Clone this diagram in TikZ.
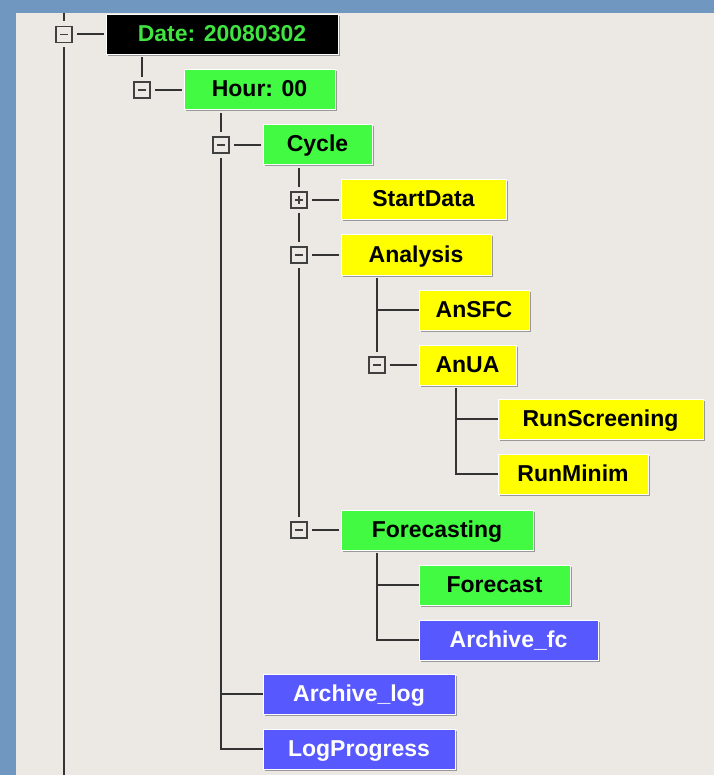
\documentclass[tikz,border=0pt]{standalone}
\usepackage{fontspec}
\setmainfont{Liberation Sans}
\usetikzlibrary{positioning, shadows}

\definecolor{frameBlue}{RGB}{112,151,192}
\definecolor{paneGrey}{RGB}{236,233,229}
\definecolor{activeGreen}{RGB}{66,250,66}
\definecolor{completeYellow}{RGB}{255,255,0}
\definecolor{queuedBlue}{RGB}{88,88,255}
\definecolor{suiteText}{RGB}{64,228,64}

\begin{document}
\begin{tikzpicture}[
    x=1pt, y=-1pt,            % one unit per screen pixel, y runs down
    node distance=15pt
  ]

  %--- styles for the task boxes and the tree lines ---
  \tikzset{
    taskBox/.style   ={rectangle, draw=white, line width=1pt, outer sep=0pt,
    minimum height=40pt, inner sep=0pt, text height=18pt, text depth=4pt,
    drop shadow={shadow xshift=1.5pt, shadow yshift=-1.5pt, opacity=1,
    fill=black!40}, font=\bfseries\fontsize{23}{27}\selectfont},
    suiteStyle/.style   ={taskBox, fill=black, text=suiteText},
    activeStyle/.style  ={taskBox, fill=activeGreen, text=black},
    completeStyle/.style={taskBox, fill=completeYellow, text=black},
    queuedStyle/.style  ={taskBox, fill=queuedBlue, text=white},
    % small expand / collapse boxes
    togBox/.style={rectangle, draw=black!75, line width=1.4pt, outer sep=0pt,
    minimum size=16pt, inner sep=0pt},
    togMinus/.style={togBox, path picture={
        \draw[black!75, line width=1.4pt]
        ([xshift=4pt]path picture bounding box.west) --
        ([xshift=-4pt]path picture bounding box.east);}},
    togPlus/.style={togBox, path picture={
        \draw[black!75, line width=1.4pt]
        ([xshift=4pt]path picture bounding box.west) --
        ([xshift=-4pt]path picture bounding box.east)
        ([yshift=-4pt]path picture bounding box.north) --
        ([yshift=4pt]path picture bounding box.south);}},
    treeLine/.style={draw=black!80, line width=2pt},
    stubLine/.style={treeLine, shorten <=5pt, shorten >=2pt},
    downLine/.style={treeLine, shorten <=3pt, shorten >=5pt},
  }

  %------------------------------------------------------------------------------
  % window frame
  %------------------------------------------------------------------------------
  \coordinate (paneTop) at (16,13);
  \coordinate (paneBottom) at (16,775);
  \useasboundingbox (0,0) rectangle (714,775);
  \fill[frameBlue] (0,0) rectangle (714,775);
  \fill[paneGrey] (paneTop) rectangle (714,775);

  %------------------------------------------------------------------------------
  % 1) Date, Hour, Cycle
  %------------------------------------------------------------------------------
  \node[suiteStyle, minimum width=232pt, anchor=west] (date) at (106,34.5)
  {Date: 20080302};
  \node[activeStyle, minimum width=151pt] (hour)
  [below right=15.5pt and 78pt of date.south west] {Hour: 00};
  \node[activeStyle, minimum width=109pt] (cycle)
  [below right=15pt and 79pt of hour.south west] {Cycle};

  %------------------------------------------------------------------------------
  % 2) children of Cycle
  %------------------------------------------------------------------------------
  \node[completeStyle, minimum width=165pt] (startData)
  [below right=15pt and 78pt of cycle.south west] {StartData};
  \node[completeStyle, minimum width=150pt] (analysis)
  [below=15pt of startData.south west, anchor=north west] {Analysis};

  \node[completeStyle, minimum width=110pt] (anSFC)
  [below right=15pt and 78pt of analysis.south west] {AnSFC};
  \node[completeStyle, minimum width=97pt] (anUA)
  [below=15pt of anSFC.south west, anchor=north west] {AnUA};

  \node[completeStyle, minimum width=205pt] (runScreening)
  [below right=14pt and 79pt of anUA.south west] {RunScreening};
  \node[completeStyle, minimum width=150pt] (runMinim)
  [below=15pt of runScreening.south west, anchor=north west] {RunMinim};

  \coordinate (fcRow) at (analysis.west |- runMinim.south);
  \node[activeStyle, minimum width=192pt] (forecasting)
  [below=16pt of fcRow, anchor=north west] {Forecasting};
  \node[activeStyle, minimum width=151pt] (forecast)
  [below right=15pt and 78pt of forecasting.south west] {Forecast};
  \node[queuedStyle, minimum width=179pt] (archiveFc)
  [below=15pt of forecast.south west, anchor=north west] {Archive\_fc};

  %------------------------------------------------------------------------------
  % 3) last tasks of Hour
  %------------------------------------------------------------------------------
  \coordinate (logRow) at (cycle.west |- archiveFc.south);
  \node[queuedStyle, minimum width=192pt] (archiveLog)
  [below=14pt of logRow, anchor=north west] {Archive\_log};
  \node[queuedStyle, minimum width=192pt] (logProgress)
  [below=15pt of archiveLog.south west, anchor=north west] {LogProgress};

  %------------------------------------------------------------------------------
  % expand / collapse boxes and joints
  %------------------------------------------------------------------------------
  \node[togMinus] (tgDate) [left=34pt of date] {};
  \node[togMinus] (tgHour) [left=34pt of hour] {};
  \node[togMinus] (tgCycle) [left=34pt of cycle] {};
  \node[togPlus]  (tgStartData) [left=34pt of startData] {};
  \node[togMinus] (tgAnalysis) [left=34pt of analysis] {};
  \node[togMinus] (tgAnUA) [left=34pt of anUA] {};
  \node[togMinus] (tgForecasting) [left=34pt of forecasting] {};

  \coordinate[left=42pt of anSFC.west] (jAnSFC);
  \coordinate[left=42pt of runScreening.west] (jRunScreening);
  \coordinate[left=42pt of runMinim.west] (jRunMinim);
  \coordinate[left=42pt of forecast.west] (jForecast);
  \coordinate[left=42pt of archiveFc.west] (jArchiveFc);
  \coordinate[left=42pt of archiveLog.west] (jArchiveLog);
  \coordinate[left=42pt of logProgress.west] (jLogProgress);

  %------------------------------------------------------------------------------
  % tree lines
  %------------------------------------------------------------------------------
  \draw[treeLine, shorten >=5pt] (tgDate |- paneTop) -- (tgDate);
  \draw[treeLine, shorten <=5pt] (tgDate) -- (tgDate |- paneBottom);
  \draw[stubLine] (tgDate) -- (date);

  \draw[downLine] (tgHour |- date.south) -- (tgHour);
  \draw[stubLine] (tgHour) -- (hour);

  \draw[downLine] (tgCycle |- hour.south) -- (tgCycle);
  \draw[stubLine] (tgCycle) -- (cycle);
  \draw[treeLine, shorten <=5pt] (tgCycle) -- (jLogProgress) -- (logProgress);
  \draw[treeLine] (jArchiveLog) -- (archiveLog);

  \draw[downLine] (tgStartData |- cycle.south) -- (tgStartData);
  \draw[stubLine] (tgStartData) -- (startData);
  \draw[treeLine, shorten <=5pt, shorten >=5pt] (tgStartData) -- (tgAnalysis);
  \draw[stubLine] (tgAnalysis) -- (analysis);
  \draw[treeLine, shorten <=5pt, shorten >=5pt] (tgAnalysis) -- (tgForecasting);
  \draw[stubLine] (tgForecasting) -- (forecasting);

  \draw[downLine] (tgAnUA |- analysis.south) -- (tgAnUA);
  \draw[treeLine] (jAnSFC) -- (anSFC);
  \draw[stubLine] (tgAnUA) -- (anUA);

  \draw[treeLine, shorten <=3pt] (jRunMinim |- anUA.south) -- (jRunMinim)
  -- (runMinim);
  \draw[treeLine] (jRunScreening) -- (runScreening);

  \draw[treeLine, shorten <=3pt] (jArchiveFc |- forecasting.south) --
  (jArchiveFc) -- (archiveFc);
  \draw[treeLine] (jForecast) -- (forecast);

\end{tikzpicture}
\end{document}
